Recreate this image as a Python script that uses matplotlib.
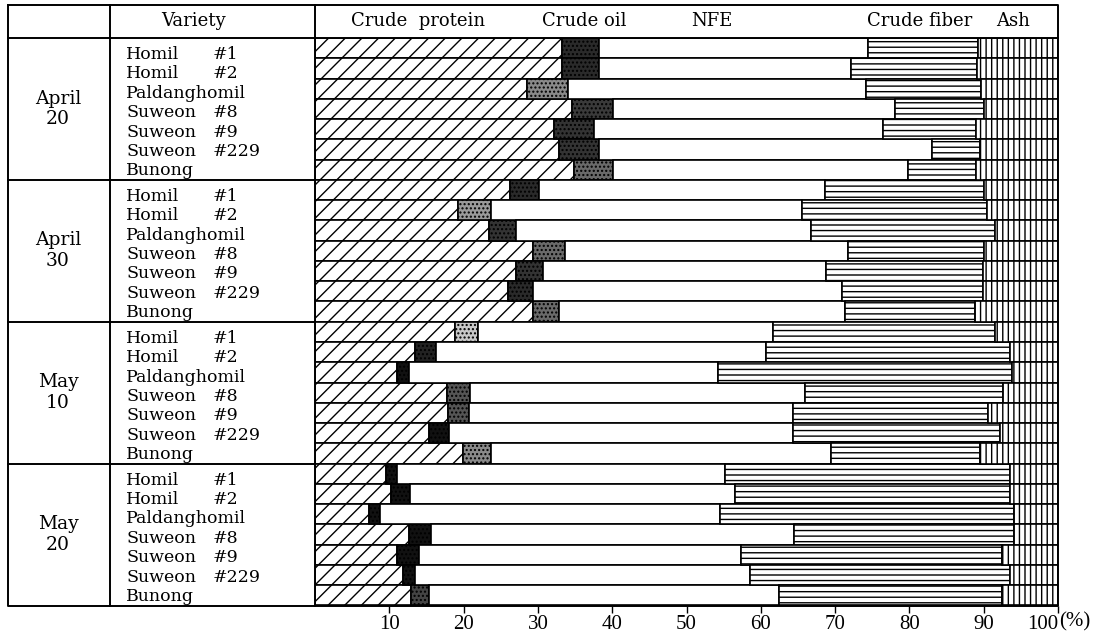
import numpy as np
import matplotlib.pyplot as plt

dates = ["April\n20", "April\n30", "May\n10", "May\n20"]
varieties = ["Homil #1", "Homil #2", "Paldanghomil", "Suweon #8",
             "Suweon #9", "Suweon #229", "Bunong"]
components = ["Crude protein", "Crude oil", "NFE", "Crude fiber", "Ash"]

# % of dry matter, rows = 4 dates x 7 varieties
crude_protein = [33.2, 33.2, 28.6, 34.6, 32.1, 32.9, 34.8,
                 26.3, 19.2, 23.4, 29.3, 27.0, 26.0, 29.3,
                 18.8, 13.4, 11.1, 17.8, 17.9, 15.3, 19.9,
                 9.6, 10.2, 7.3, 12.7, 11.0, 11.9, 12.9]
crude_oil = [5.0, 5.0, 5.4, 5.5, 5.4, 5.3, 5.3,
             3.8, 4.5, 3.7, 4.3, 3.7, 3.4, 3.6,
             3.1, 2.9, 1.6, 3.0, 2.8, 2.8, 3.8,
             1.5, 2.6, 1.5, 2.9, 3.0, 1.6, 2.5]
nfe = [36.2, 33.9, 40.1, 38.0, 39.0, 44.8, 39.7,
       38.5, 41.9, 39.7, 38.2, 38.1, 41.5, 38.4,
       39.8, 44.4, 41.6, 45.1, 43.7, 46.2, 45.8,
       44.1, 43.7, 45.7, 48.9, 43.4, 45.0, 47.1]
crude_fiber = [14.8, 17.0, 15.5, 12.0, 12.4, 6.5, 9.2,
               21.5, 24.9, 24.7, 18.3, 21.1, 19.0, 17.5,
               29.8, 32.9, 39.5, 26.7, 26.2, 27.9, 20.0,
               38.3, 37.0, 39.6, 29.6, 35.0, 35.0, 30.0]
ash = [10.8, 10.9, 10.4, 9.9, 11.1, 10.5, 11.0,
       9.9, 9.5, 8.5, 9.9, 10.1, 10.1, 11.2,
       8.5, 6.4, 6.2, 7.4, 9.4, 7.8, 10.5,
       6.5, 6.5, 5.9, 5.9, 7.6, 6.5, 7.5]

# stipple darkness of the crude oil segment in the print
oil_shade = ["#2a2a2a", "#2a2a2a", "#8a8a8a", "#3a3a3a", "#333333", "#333333", "#6a6a6a",
             "#2a2a2a", "#9a9a9a", "#333333", "#6a6a6a", "#333333", "#2a2a2a", "#6a6a6a",
             "#c8c8c8", "#222222", "#111111", "#555555", "#555555", "#111111", "#8a8a8a",
             "#111111", "#111111", "#111111", "#111111", "#111111", "#111111", "#444444"]

W, H = 1103, 633
SERIF = "DejaVu Serif"
TOP, BOTTOM, X0, X1, XL = 38, 605.5, 315, 1058, 8
row_h = (BOTTOM - TOP) / 28

fig = plt.figure(figsize=(W / 100, H / 100), dpi=100)
ax = fig.add_axes([X0 / W, 1 - BOTTOM / H, (X1 - X0) / W, (BOTTOM - TOP) / H])

y = np.arange(len(crude_protein))
left = np.zeros(len(y))
series = [
    (crude_protein, "white", "//"),
    (crude_oil, oil_shade, "...."),
    (nfe, "white", None),
    (crude_fiber, "white", "---"),
    (ash, "white", "|||"),
]
for vals, face, hatch in series:
    ax.barh(y, vals, left=left, height=1.0, color=face, edgecolor="black",
            hatch=hatch, linewidth=1.2)
    left += np.array(vals)

ax.set_xlim(0, 100)
ax.set_ylim(len(y) - 0.5, -0.5)
for s in ax.spines.values():
    s.set_visible(False)
ax.set_yticks([])
ticks = list(range(10, 101, 10))
ax.set_xticks(ticks)
ax.set_xticklabels([str(t) for t in ticks], family="Liberation Serif", fontsize=15)
ax.get_xticklabels()[-1].set_ha("right")
ax.tick_params(axis="x", direction="out", length=5, width=1, pad=2)

# table frame and text
tb = fig.add_axes([0, 0, 1, 1])
tb.set_xlim(0, W)
tb.set_ylim(H, 0)
tb.axis("off")
lw = 1.4
tb.plot([XL, X1, X1, XL, XL], [5, 5, BOTTOM, BOTTOM, 5], color="black", lw=lw)
for x in (110, X0):
    tb.plot([x, x], [5, BOTTOM], color="black", lw=lw)
tb.plot([XL, X1], [TOP, TOP], color="black", lw=lw)
for k in range(1, 4):
    yy = TOP + k * 7 * row_h
    tb.plot([XL, X0], [yy, yy], color="black", lw=lw)

tb.text(193, 21, "Variety", ha="center", va="center", family=SERIF, fontsize=13)
for name, xc in zip(components, [418, 584, 712, 920, 1013]):
    tb.text(xc, 21, name.replace(" ", "  ", 1) if name == "Crude protein" else name,
            ha="center", va="center", family=SERIF, fontsize=13)

for g, d in enumerate(dates):
    gtop = TOP + g * 7 * row_h
    tb.text(58, gtop + 3.5 * row_h, d, ha="center", va="center", family=SERIF,
            fontsize=13.5, linespacing=1.2)
    for i, v in enumerate(varieties):
        base = gtop + 21 + i * 19.4
        if "#" in v:
            nm, num = v.split("#")
            tb.text(126, base, nm.strip(), ha="left", va="baseline", family=SERIF, fontsize=12.5)
            tb.text(213, base, "#" + num, ha="left", va="baseline", family=SERIF, fontsize=12.5)
        else:
            tb.text(126, base, v, ha="left", va="baseline", family=SERIF, fontsize=12.5)

tb.text(X1 + 1, BOTTOM + 7, "(%)", ha="left", va="top", family="Liberation Serif", fontsize=15)

fig.savefig("out.png", dpi=100)
